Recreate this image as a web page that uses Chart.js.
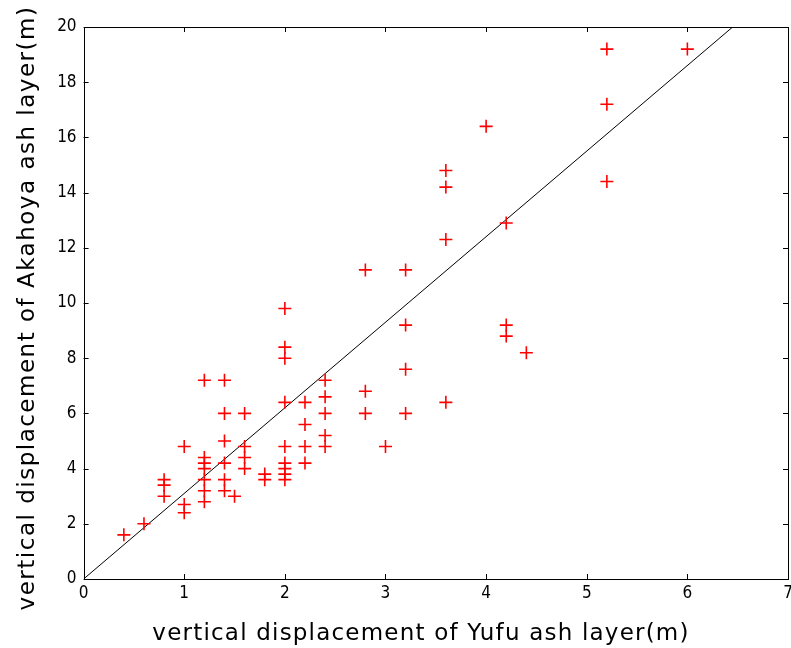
<!DOCTYPE html>
<html>
<head>
<meta charset="utf-8">
<script src="https://cdn.jsdelivr.net/npm/chart.js@4/dist/chart.umd.min.js"></script>
<style>
html,body{margin:0;padding:0;background:#fff;}
#wrap{width:791px;height:648px;}
</style>
</head>
<body>
<div id="wrap"><canvas id="c" width="791" height="648"></canvas></div>
<script>
// Yufu ash layer displacement (m)
const yufuX = [0.4,0.6,0.8,0.8,0.8,1.0,1.0,1.0,1.2,1.2,1.2,1.2,1.2,1.2,1.2,1.4,1.4,1.4,1.4,1.4,1.4,1.5,1.6,1.6,1.6,1.6,1.8,1.8,2.0,2.0,2.0,2.0,2.0,2.0,2.0,2.0,2.0,2.2,2.2,2.2,2.2,2.4,2.4,2.4,2.4,2.4,2.8,2.8,2.8,3.0,3.2,3.2,3.2,3.2,3.6,3.6,3.6,3.6,4.0,4.2,4.2,4.2,4.4,5.2,5.2,5.2,6.0];
// Akahoya ash layer displacement (m)
const akahoyaY = [1.6,2.0,3.6,3.4,3.0,4.8,2.7,2.4,7.2,4.4,4.2,4.0,3.6,3.2,2.8,7.2,6.0,5.0,4.2,3.6,3.2,3.0,6.0,4.8,4.4,4.0,3.8,3.6,9.8,8.4,8.0,6.4,4.8,4.2,4.0,3.8,3.6,6.4,5.6,4.8,4.2,7.2,6.6,6.0,5.2,4.8,11.2,6.8,6.0,4.8,11.2,9.2,7.6,6.0,14.8,14.2,12.3,6.4,16.4,12.9,9.2,8.8,8.2,19.2,17.2,14.4,19.2];
// Reference line
const lineX = [0, 6.45];
const lineY = [0, 20];
// Tick values
const xTicks = [0,1,2,3,4,5,6,7];
const yTicks = [0,2,4,6,8,10,12,14,16,18,20];
// Axis titles
const xTitle = 'vertical displacement of Yufu ash layer(m)';
const yTitle = 'vertical displacement of Akahoya ash layer(m)';

const points = yufuX.map((x,i)=>({x:x, y:akahoyaY[i]}));
const linePts = lineX.map((x,i)=>({x:x, y:lineY[i]}));

const tickFont = {family:"'Liberation Sans Narrow','DejaVu Sans Condensed','Liberation Sans',sans-serif", size:17};
const titleFontStr = "23px 'DejaVu Sans', sans-serif";

const framePlugin = {
  id:'frame',
  afterDraw(chart){
    const ctx = chart.ctx, a = chart.chartArea;
    const xs = chart.scales.x, ys = chart.scales.y;
    ctx.save();
    ctx.strokeStyle = '#000';
    ctx.lineWidth = 1;
    ctx.strokeRect(Math.round(a.left)+0.5, Math.round(a.top)+0.5, Math.round(a.right-a.left), Math.round(a.bottom-a.top));
    const L = 5;
    ctx.beginPath();
    xTicks.forEach(v=>{
      const px = Math.round(xs.getPixelForValue(v))+0.5;
      ctx.moveTo(px, a.bottom); ctx.lineTo(px, a.bottom-L);
      ctx.moveTo(px, a.top); ctx.lineTo(px, a.top+L);
    });
    yTicks.forEach(v=>{
      const py = Math.round(ys.getPixelForValue(v))+0.5;
      ctx.moveTo(a.left, py); ctx.lineTo(a.left+L, py);
      ctx.moveTo(a.right, py); ctx.lineTo(a.right-L, py);
    });
    ctx.stroke();
    ctx.restore();

    // axis titles
    ctx.save();
    ctx.fillStyle = '#000';
    ctx.font = titleFontStr;
    ctx.textAlign = 'center';
    ctx.textBaseline = 'alphabetic';
    try { ctx.letterSpacing = '1.2px'; } catch(e) {}
    ctx.fillText(xTitle, 421, 640);
    try { ctx.letterSpacing = '1.5px'; } catch(e) {}
    ctx.translate(34, 308);
    ctx.rotate(-Math.PI/2);
    ctx.fillText(yTitle, 0, 0);
    ctx.restore();
  }
};

new Chart(document.getElementById('c'), {
  type:'scatter',
  data:{
    datasets:[
      {
        data: points,
        pointStyle:'cross',
        pointRadius:6.5,
        pointHoverRadius:6.5,
        borderColor:'#ff0000',
        backgroundColor:'#ff0000',
        pointBorderWidth:1.6,
        showLine:false
      },
      {
        data: linePts,
        showLine:true,
        borderColor:'#000000',
        borderWidth:1,
        pointRadius:0,
        fill:false
      }
    ]
  },
  options:{
    responsive:false,
    animation:false,
    devicePixelRatio:1,
    layout:{autoPadding:false, padding:{left:0, top:27, right:3, bottom:0}},
    plugins:{legend:{display:false}, tooltip:{enabled:false}},
    scales:{
      x:{
        type:'linear', min:0, max:7,
        afterBuildTicks(s){ s.ticks = xTicks.map(v=>({value:v})); },
        afterFit(s){ s.height = 69; s.paddingLeft = 0; s.paddingRight = 0; },
        grid:{display:false, drawTicks:false},
        border:{display:false},
        ticks:{color:'#000', font:tickFont, padding:4, maxRotation:0, autoSkip:false},
        title:{display:false}
      },
      y:{
        type:'linear', min:0, max:20,
        afterBuildTicks(s){ s.ticks = yTicks.map(v=>({value:v})); },
        afterFit(s){ s.width = 83.6; s.paddingTop = 0; s.paddingBottom = 0; },
        grid:{display:false, drawTicks:false},
        border:{display:false},
        ticks:{color:'#000', font:tickFont, padding:7, autoSkip:false},
        title:{display:false}
      }
    }
  },
  plugins:[framePlugin]
});
</script>
</body>
</html>
